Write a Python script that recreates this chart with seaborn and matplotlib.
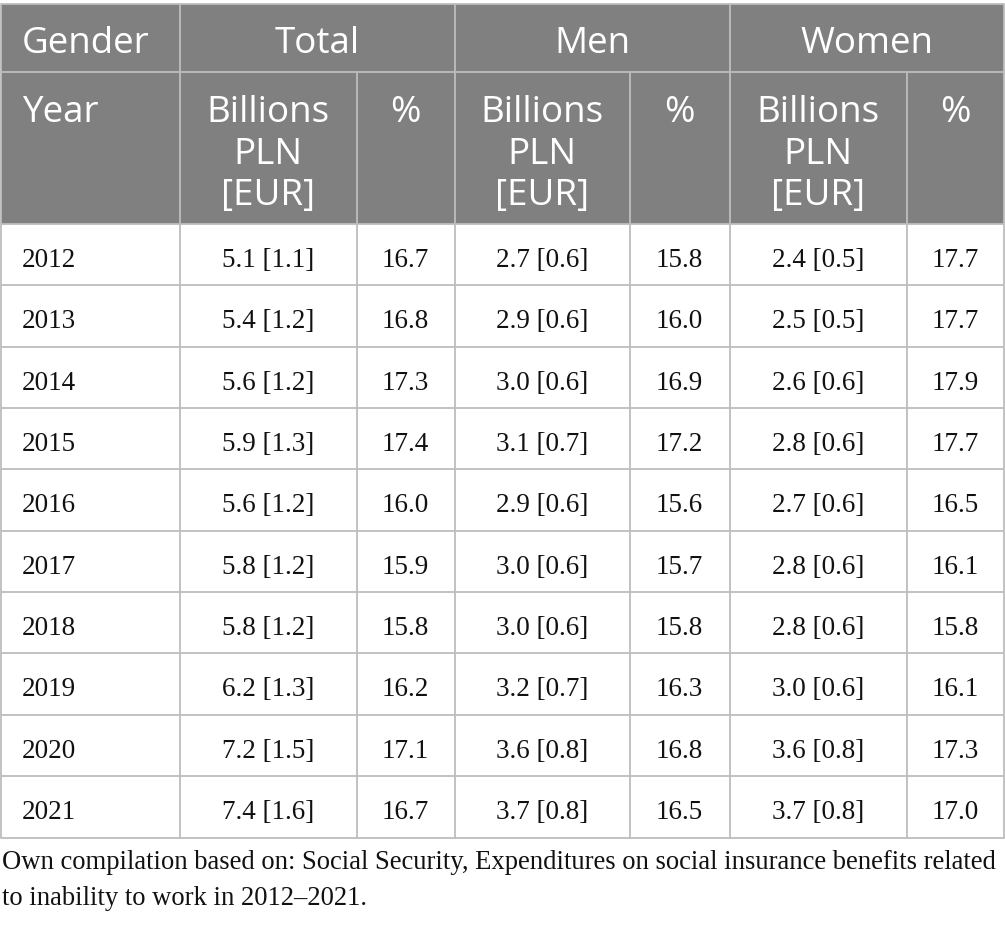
import matplotlib
matplotlib.use("Agg")
import matplotlib.pyplot as plt
from matplotlib.patches import Rectangle
import seaborn as sns

# ---- data ----
years = [2012, 2013, 2014, 2015, 2016, 2017, 2018, 2019, 2020, 2021]
total_pln = [5.1, 5.4, 5.6, 5.9, 5.6, 5.8, 5.8, 6.2, 7.2, 7.4]
total_eur = [1.1, 1.2, 1.2, 1.3, 1.2, 1.2, 1.2, 1.3, 1.5, 1.6]
total_pct = [16.7, 16.8, 17.3, 17.4, 16.0, 15.9, 15.8, 16.2, 17.1, 16.7]
men_pln = [2.7, 2.9, 3.0, 3.1, 2.9, 3.0, 3.0, 3.2, 3.6, 3.7]
men_eur = [0.6, 0.6, 0.6, 0.7, 0.6, 0.6, 0.6, 0.7, 0.8, 0.8]
men_pct = [15.8, 16.0, 16.9, 17.2, 15.6, 15.7, 15.8, 16.3, 16.8, 16.5]
women_pln = [2.4, 2.5, 2.6, 2.8, 2.7, 2.8, 2.8, 3.0, 3.6, 3.7]
women_eur = [0.5, 0.5, 0.6, 0.6, 0.6, 0.6, 0.6, 0.6, 0.8, 0.8]
women_pct = [17.7, 17.7, 17.9, 17.7, 16.5, 16.1, 15.8, 16.1, 17.3, 17.0]

group_labels = ["Gender", "Total", "Men", "Women"]
sub_labels = ["Year", "Billions\nPLN\n[EUR]", "%", "Billions\nPLN\n[EUR]", "%", "Billions\nPLN\n[EUR]", "%"]
footnote = ("Own compilation based on: Social Security, Expenditures on social insurance benefits related\n"
            "to inability to work in 2012\u20132021.")

# ---- layout (pixels) ----
sns.set_theme(style="white")
W, H = 1005, 928
fig = plt.figure(figsize=(W / 100, H / 100), dpi=100)
ax = fig.add_axes([0, 0, 1, 1])
ax.set_xlim(0, W)
ax.set_ylim(H, 0)
ax.axis("off")

col_edges = [0.5, 180, 356.5, 454.5, 629.5, 729.5, 906.5, 1004]
top = 4.5
h1_bot = 72.5
h2_bot = 225
n_rows = len(years)
body_bot = 838.5
row_h = (body_bot - h2_bot) / n_rows

header_bg = "#808080"
grid_c = "#bdbdbd"
head_font = "Open Sans"
body_font = "Liberation Serif"
txt_c = "#111111"

# header background
ax.add_patch(Rectangle((col_edges[0], top), col_edges[-1] - col_edges[0], h2_bot - top,
                       facecolor=header_bg, edgecolor="none", zorder=1))

# grid lines
lw = 1.3
for y in [top, h1_bot, h2_bot] + [h2_bot + i * row_h for i in range(1, n_rows + 1)]:
    ax.plot([col_edges[0], col_edges[-1]], [y, y], color=grid_c, lw=lw, zorder=2,
            solid_capstyle="butt")
group_edges = [col_edges[0], col_edges[1], col_edges[3], col_edges[5], col_edges[7]]
for x in group_edges:
    ax.plot([x, x], [top, h1_bot], color=grid_c, lw=lw, zorder=2)
for x in col_edges:
    ax.plot([x, x], [h1_bot, body_bot], color=grid_c, lw=lw, zorder=2)

# header row 1
hs = 26.5
ax.text(22, 53, group_labels[0], ha="left", va="baseline", color="white",
        fontsize=hs, family=head_font, zorder=3)
for g in range(1, 4):
    x0, x1 = group_edges[g], group_edges[g + 1]
    ax.text((x0 + x1) / 2, 53, group_labels[g], ha="center", va="baseline", color="white",
            fontsize=hs, family=head_font, zorder=3)

# header row 2
base2 = [122, 164, 205]
for c, lab in enumerate(sub_labels):
    lines = lab.split("\n")
    x0, x1 = col_edges[c], col_edges[c + 1]
    for i, ln in enumerate(lines):
        if c == 0:
            ax.text(22, base2[i], ln, ha="left", va="baseline", color="white",
                    fontsize=hs, family=head_font, zorder=3)
        else:
            ax.text((x0 + x1) / 2, base2[i], ln, ha="center", va="baseline", color="white",
                    fontsize=hs, family=head_font, zorder=3)

# body
bs = 19.5
for r in range(n_rows):
    yb = h2_bot + r * row_h + 42
    cells = [
        str(years[r]),
        f"{total_pln[r]:.1f} [{total_eur[r]:.1f}]", f"{total_pct[r]:.1f}",
        f"{men_pln[r]:.1f} [{men_eur[r]:.1f}]", f"{men_pct[r]:.1f}",
        f"{women_pln[r]:.1f} [{women_eur[r]:.1f}]", f"{women_pct[r]:.1f}",
    ]
    for c, s in enumerate(cells):
        if c == 0:
            ax.text(22, yb, s, ha="left", va="baseline", color=txt_c,
                    fontsize=bs, family=body_font, zorder=3)
        else:
            ax.text((col_edges[c] + col_edges[c + 1]) / 2, yb, s, ha="center", va="baseline",
                    color=txt_c, fontsize=bs, family=body_font, zorder=3)

# footnote
fl = footnote.split("\n")
fs = 19.2
ax.text(2, 869, fl[0], ha="left", va="baseline", color=txt_c, fontsize=fs, family=body_font)
ax.text(2, 905, fl[1], ha="left", va="baseline", color=txt_c, fontsize=fs, family=body_font)

fig.savefig("out.png", dpi=100, facecolor="white")
